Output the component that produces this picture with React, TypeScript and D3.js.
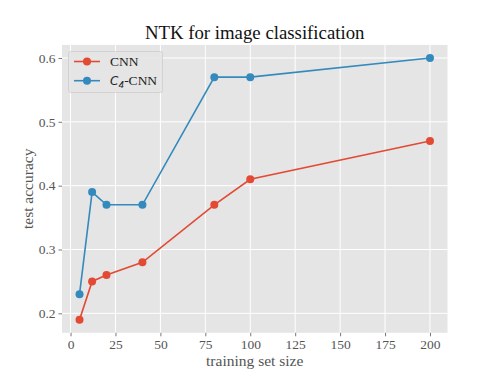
import { useRef, useEffect } from 'react';
import * as d3 from 'd3';

const trainSizes = [5, 12, 20, 40, 80, 100, 200];
const cnnAcc = [0.19, 0.25, 0.26, 0.28, 0.37, 0.41, 0.47];
const c4Acc = [0.23, 0.39, 0.37, 0.37, 0.57, 0.57, 0.60];
const xTicks = [0, 25, 50, 75, 100, 125, 150, 175, 200];
const yTicks = [0.2, 0.3, 0.4, 0.5, 0.6];

const width = 498;
const height = 374;
const font = '"Liberation Serif", "DejaVu Serif", serif';

const App = () => {
  const ref = useRef<SVGSVGElement>(null);

  useEffect(() => {
    const svg = d3.select(ref.current);
    svg.selectAll('*').remove();

    const x = d3.scaleLinear().domain([-4.75, 209.75]).range([62, 447.5]);
    const y = d3.scaleLinear().domain([0.1695, 0.6205]).range([332.8, 44.9]);

    svg.append('rect')
      .attr('x', 62).attr('y', 44.9)
      .attr('width', 447.5 - 62).attr('height', 332.8 - 44.9)
      .attr('fill', '#e5e5e5');

    // grid
    svg.append('g').selectAll('line').data(xTicks).enter().append('line')
      .attr('x1', d => x(d)).attr('x2', d => x(d))
      .attr('y1', 44.9).attr('y2', 332.8)
      .attr('stroke', 'white').attr('stroke-width', 1);
    svg.append('g').selectAll('line').data(yTicks).enter().append('line')
      .attr('y1', d => y(d)).attr('y2', d => y(d))
      .attr('x1', 62).attr('x2', 447.5)
      .attr('stroke', 'white').attr('stroke-width', 1);

    // axes
    const xAxis = svg.append('g')
      .attr('transform', 'translate(0,332.8)')
      .call(d3.axisBottom(x).tickValues(xTicks).tickSize(3.5).tickPadding(3).tickFormat(d3.format('d')));
    const yAxis = svg.append('g')
      .attr('transform', 'translate(62,0)')
      .call(d3.axisLeft(y).tickValues(yTicks).tickSize(3.5).tickPadding(3).tickFormat(d3.format('.1f')));
    [xAxis, yAxis].forEach(a => {
      a.select('.domain').remove();
      a.selectAll('line').attr('stroke', '#555').attr('stroke-width', 0.8);
      a.selectAll('text').attr('fill', '#555').style('font-family', font).style('font-size', '13.5px');
    });

    // series
    const series = [
      { vals: cnnAcc, color: '#E24A33' },
      { vals: c4Acc, color: '#348ABD' },
    ];
    const line = d3.line<number>().x((_, i) => x(trainSizes[i])).y(d => y(d));
    series.forEach(s => {
      svg.append('path')
        .attr('d', line(s.vals))
        .attr('fill', 'none').attr('stroke', s.color).attr('stroke-width', 1.6);
      svg.append('g').selectAll('circle').data(s.vals).enter().append('circle')
        .attr('cx', (_, i) => x(trainSizes[i])).attr('cy', d => y(d))
        .attr('r', 4).attr('fill', s.color);
    });

    // legend
    const lg = svg.append('g');
    lg.append('rect')
      .attr('x', 68.5).attr('y', 51.5).attr('width', 94).attr('height', 41).attr('rx', 2)
      .attr('fill', '#e5e5e5').attr('stroke', '#cccccc').attr('stroke-width', 0.8).attr('opacity', 0.9);
    const items = [
      { label: 'CNN', color: '#E24A33', c4: false },
      { label: 'CNN', color: '#348ABD', c4: true },
    ];
    items.forEach((it, i) => {
      const cy = 61.5 + i * 19.2;
      lg.append('line').attr('x1', 74).attr('x2', 100).attr('y1', cy).attr('y2', cy)
        .attr('stroke', it.color).attr('stroke-width', 1.6);
      lg.append('circle').attr('cx', 87).attr('cy', cy).attr('r', 4).attr('fill', it.color);
      const t = lg.append('text').attr('x', 110).attr('y', cy + 4.5)
        .style('font-family', font).style('font-size', '13.5px').attr('fill', '#222');
      if (it.c4) {
        t.append('tspan').text('C').style('font-family', '"DejaVu Sans", sans-serif').style('font-style', 'italic').style('font-size', '12px');
        t.append('tspan').text('4').attr('dy', 3).style('font-family', '"DejaVu Sans", sans-serif').style('font-style', 'italic').style('font-size', '9px');
        t.append('tspan').text('-' + it.label).attr('dy', -3);
      } else {
        t.text(it.label);
      }
    });

    // titles
    svg.append('text').attr('x', 254.7).attr('y', 39).attr('text-anchor', 'middle')
      .style('font-family', font).style('font-size', '18.8px').attr('fill', '#111')
      .text('NTK for image classification');
    svg.append('text').attr('x', 254.7).attr('y', 366).attr('text-anchor', 'middle')
      .style('font-family', font).style('font-size', '15.5px').attr('fill', '#555')
      .text('training set size');
    svg.append('text').attr('transform', 'translate(33,188.8) rotate(-90)').attr('text-anchor', 'middle')
      .style('font-family', font).style('font-size', '15.5px').attr('fill', '#555')
      .text('test accuracy');
  }, []);

  return (
    <svg ref={ref} width={width} height={height}
      style={{ position: 'absolute', left: 0, top: 0, background: 'white' }} />
  );
};

export default App;
